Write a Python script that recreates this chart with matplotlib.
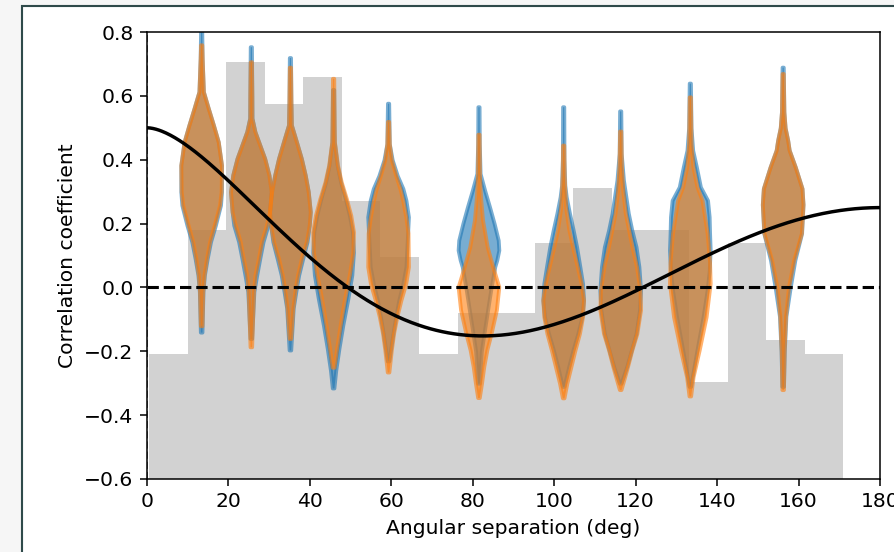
import numpy as np
import matplotlib
matplotlib.use("Agg")
import matplotlib.pyplot as plt
from matplotlib.patches import Rectangle

plt.rcParams["font.size"] = 10.6

# gray background histogram of pair counts (bar tops, in correlation units)
bin_edges = np.linspace(0.5, 171.0, 19)
bar_tops = [-0.21, 0.18, 0.705, 0.575, 0.66, 0.27, 0.095, -0.21, -0.08,
            -0.08, 0.14, 0.31, 0.18, 0.18, -0.295, 0.14, -0.165, -0.21]

# violin positions (deg)
positions = [13.3, 25.5, 35.1, 45.7, 59.2, 81.4, 102.2, 116.2, 133.3, 156.1]

# (correlation, relative density) profiles, top to bottom
blue_shapes = [
    [(0.80, 0.03), (0.717, 0.05), (0.613, 0.11), (0.561, 0.35), (0.509, 0.6), (0.456, 0.84),
     (0.383, 1.0), (0.30, 1.0), (0.258, 0.95), (0.195, 0.7), (0.143, 0.46), (0.091, 0.3),
     (0.039, 0.16), (-0.013, 0.09), (-0.14, 0.04)],
    [(0.754, 0.03), (0.60, 0.05), (0.53, 0.06), (0.488, 0.2), (0.446, 0.44), (0.404, 0.68),
     (0.352, 0.89), (0.30, 1.0), (0.237, 0.92), (0.195, 0.84), (0.143, 0.6), (0.091, 0.44),
     (0.039, 0.29), (-0.013, 0.15), (-0.16, 0.04)],
    [(0.72, 0.03), (0.58, 0.05), (0.509, 0.07), (0.456, 0.32), (0.404, 0.56), (0.352, 0.75),
     (0.30, 0.9), (0.237, 1.0), (0.195, 0.95), (0.143, 0.84), (0.091, 0.63), (0.039, 0.43),
     (-0.013, 0.29), (-0.065, 0.16), (-0.196, 0.04)],
    [(0.62, 0.03), (0.50, 0.05), (0.456, 0.06), (0.383, 0.2), (0.33, 0.37), (0.278, 0.6),
     (0.226, 0.8), (0.174, 0.95), (0.11, 1.0), (0.039, 0.92), (-0.034, 0.73), (-0.117, 0.48),
     (-0.19, 0.29), (-0.26, 0.13), (-0.315, 0.04)],
    [(0.577, 0.03), (0.45, 0.06), (0.40, 0.2), (0.35, 0.45), (0.31, 0.72), (0.273, 0.87),
     (0.221, 0.99), (0.17, 0.95), (0.065, 0.87), (0.013, 0.72), (-0.04, 0.52), (-0.092, 0.37),
     (-0.144, 0.24), (-0.23, 0.04)],
    [(0.566, 0.03), (0.45, 0.04), (0.357, 0.08), (0.305, 0.3), (0.253, 0.54), (0.20, 0.77),
     (0.148, 0.97), (0.117, 1.0), (0.086, 0.9), (0.065, 0.8), (0.0, 0.62), (-0.07, 0.45),
     (-0.144, 0.27), (-0.20, 0.14), (-0.30, 0.04)],
    [(0.566, 0.03), (0.40, 0.04), (0.32, 0.08), (0.284, 0.15), (0.232, 0.31), (0.18, 0.49),
     (0.127, 0.66), (0.065, 0.82), (0.013, 0.95), (-0.04, 1.0), (-0.092, 0.92), (-0.144, 0.72),
     (-0.196, 0.48), (-0.248, 0.27), (-0.31, 0.04)],
    [(0.553, 0.03), (0.42, 0.05), (0.336, 0.16), (0.232, 0.4), (0.18, 0.57), (0.127, 0.78),
     (0.065, 0.92), (-0.008, 1.0), (-0.07, 0.95), (-0.144, 0.78), (-0.196, 0.55), (-0.248, 0.32),
     (-0.30, 0.04)],
    [(0.64, 0.03), (0.50, 0.06), (0.43, 0.14), (0.378, 0.32), (0.315, 0.52), (0.273, 0.87),
     (0.221, 0.95), (0.17, 0.97), (0.117, 1.0), (0.05, 0.95), (-0.008, 0.85), (-0.092, 0.65),
     (-0.196, 0.35), (-0.28, 0.12), (-0.31, 0.04)],
    [(0.69, 0.03), (0.55, 0.06), (0.50, 0.12), (0.46, 0.25), (0.43, 0.32), (0.377, 0.62),
     (0.31, 0.95), (0.26, 1.0), (0.17, 0.93), (0.086, 0.6), (0.0, 0.37), (-0.09, 0.16),
     (-0.20, 0.08), (-0.31, 0.04)],
]
orange_shapes = [
    [(0.76, 0.03), (0.717, 0.05), (0.613, 0.11), (0.561, 0.35), (0.509, 0.6), (0.456, 0.84),
     (0.383, 1.0), (0.30, 0.98), (0.258, 0.9), (0.195, 0.64), (0.143, 0.41), (0.091, 0.26),
     (0.039, 0.14), (-0.013, 0.08), (-0.12, 0.04)],
    [(0.707, 0.03), (0.60, 0.05), (0.53, 0.05), (0.488, 0.2), (0.446, 0.44), (0.404, 0.68),
     (0.352, 0.89), (0.30, 1.0), (0.237, 0.92), (0.195, 0.76), (0.143, 0.52), (0.091, 0.37),
     (0.039, 0.2), (-0.013, 0.13), (-0.186, 0.04)],
    [(0.69, 0.03), (0.58, 0.05), (0.509, 0.07), (0.456, 0.32), (0.404, 0.56), (0.352, 0.75),
     (0.30, 0.9), (0.237, 1.0), (0.195, 0.95), (0.143, 0.8), (0.091, 0.56), (0.039, 0.37),
     (-0.013, 0.24), (-0.065, 0.14), (-0.16, 0.04)],
    [(0.655, 0.03), (0.50, 0.05), (0.456, 0.06), (0.383, 0.2), (0.33, 0.37), (0.278, 0.6),
     (0.226, 0.8), (0.174, 0.92), (0.11, 0.89), (0.039, 0.73), (-0.034, 0.52), (-0.117, 0.32),
     (-0.19, 0.16), (-0.25, 0.04)],
    [(0.52, 0.03), (0.45, 0.06), (0.40, 0.16), (0.35, 0.38), (0.31, 0.58), (0.273, 0.72),
     (0.221, 0.87), (0.17, 0.98), (0.065, 1.0), (0.013, 0.87), (-0.04, 0.63), (-0.092, 0.43),
     (-0.144, 0.27), (-0.196, 0.16), (-0.265, 0.04)],
    [(0.48, 0.03), (0.35, 0.05), (0.284, 0.1), (0.211, 0.2), (0.127, 0.43), (0.065, 0.7),
     (0.002, 1.0), (-0.07, 0.88), (-0.144, 0.62), (-0.196, 0.41), (-0.248, 0.26), (-0.30, 0.15),
     (-0.345, 0.04)],
    [(0.446, 0.03), (0.35, 0.05), (0.25, 0.12), (0.18, 0.28), (0.127, 0.46), (0.065, 0.69),
     (0.013, 0.88), (-0.04, 1.0), (-0.092, 0.95), (-0.144, 0.8), (-0.196, 0.58), (-0.248, 0.38),
     (-0.30, 0.18), (-0.346, 0.04)],
    [(0.49, 0.03), (0.38, 0.06), (0.30, 0.13), (0.232, 0.25), (0.127, 0.58), (0.065, 0.8),
     (-0.008, 0.97), (-0.07, 1.0), (-0.144, 0.82), (-0.196, 0.57), (-0.248, 0.36), (-0.30, 0.13),
     (-0.32, 0.04)],
    [(0.597, 0.03), (0.45, 0.06), (0.378, 0.15), (0.315, 0.35), (0.273, 0.6), (0.17, 0.85),
     (0.08, 0.97), (0.013, 1.0), (-0.092, 0.8), (-0.196, 0.46), (-0.28, 0.16), (-0.34, 0.04)],
    [(0.67, 0.03), (0.55, 0.06), (0.50, 0.12), (0.46, 0.25), (0.43, 0.32), (0.377, 0.62),
     (0.31, 0.95), (0.26, 1.0), (0.17, 0.92), (0.086, 0.54), (0.0, 0.28), (-0.09, 0.14),
     (-0.20, 0.07), (-0.32, 0.04)],
]


def hellings_downs(theta_deg):
    x = (1 - np.cos(np.radians(theta_deg))) / 2
    with np.errstate(divide="ignore", invalid="ignore"):
        xlogx = np.where(x > 0, x * np.log(x), 0.0)
    return 1.5 * xlogx - 0.25 * x + 0.5


def make_stats(shape):
    ys = np.array([p[0] for p in shape])[::-1]
    ws = np.array([p[1] for p in shape])[::-1]
    return dict(coords=ys, vals=ws, mean=ys.mean(), median=np.median(ys),
                min=ys.min(), max=ys.max())


def draw_violins(ax, shapes, color):
    stats = [make_stats(s) for s in shapes]
    parts = ax.violin(stats, positions=positions, widths=10.0,
                      showmeans=False, showextrema=False, showmedians=False)
    rgb = matplotlib.colors.to_rgb(color)
    for body in parts["bodies"]:
        body.set_alpha(None)
        body.set_facecolor((*rgb, 0.6))
        body.set_edgecolor((*rgb, 0.6))
        body.set_linewidth(2.0)
        body.set_joinstyle("round")
        body.set_zorder(2)


fig = plt.figure(figsize=(894 / 138, 552 / 138), dpi=138)
fig.patch.set_facecolor("#f6f6f6")
fig.add_artist(Rectangle((22 / 894, -0.05), 1.2, (546 / 552) + 0.05,
                         transform=fig.transFigure, facecolor="white",
                         edgecolor="#2f4a4a", linewidth=1.1, zorder=-1))

ax = fig.add_axes([147 / 894, 73 / 552, 733 / 894, 447 / 552])

widths = np.diff(bin_edges)
ax.bar(bin_edges[:-1], np.array(bar_tops) + 0.6, width=widths, bottom=-0.6,
       align="edge", color="grey", alpha=0.35, linewidth=0, zorder=1)

draw_violins(ax, blue_shapes, "C0")
draw_violins(ax, orange_shapes, "C1")

theta = np.linspace(0, 180, 500)
ax.plot(theta, hellings_downs(theta), color="k", lw=1.8, zorder=4)
ax.axhline(0, color="k", ls="--", lw=1.6, zorder=4)
ax.axvline(0, color="k", ls="--", lw=1.0, alpha=0.6, zorder=4)

ax.set_xlim(0, 180)
ax.set_ylim(-0.6, 0.8)
ax.set_xticks(np.arange(0, 181, 20))
ax.set_yticks(np.arange(-0.6, 0.81, 0.2))
ax.set_xlabel("Angular separation (deg)")
ax.set_ylabel("Correlation coefficient")

fig.savefig("out.png", dpi=138)
